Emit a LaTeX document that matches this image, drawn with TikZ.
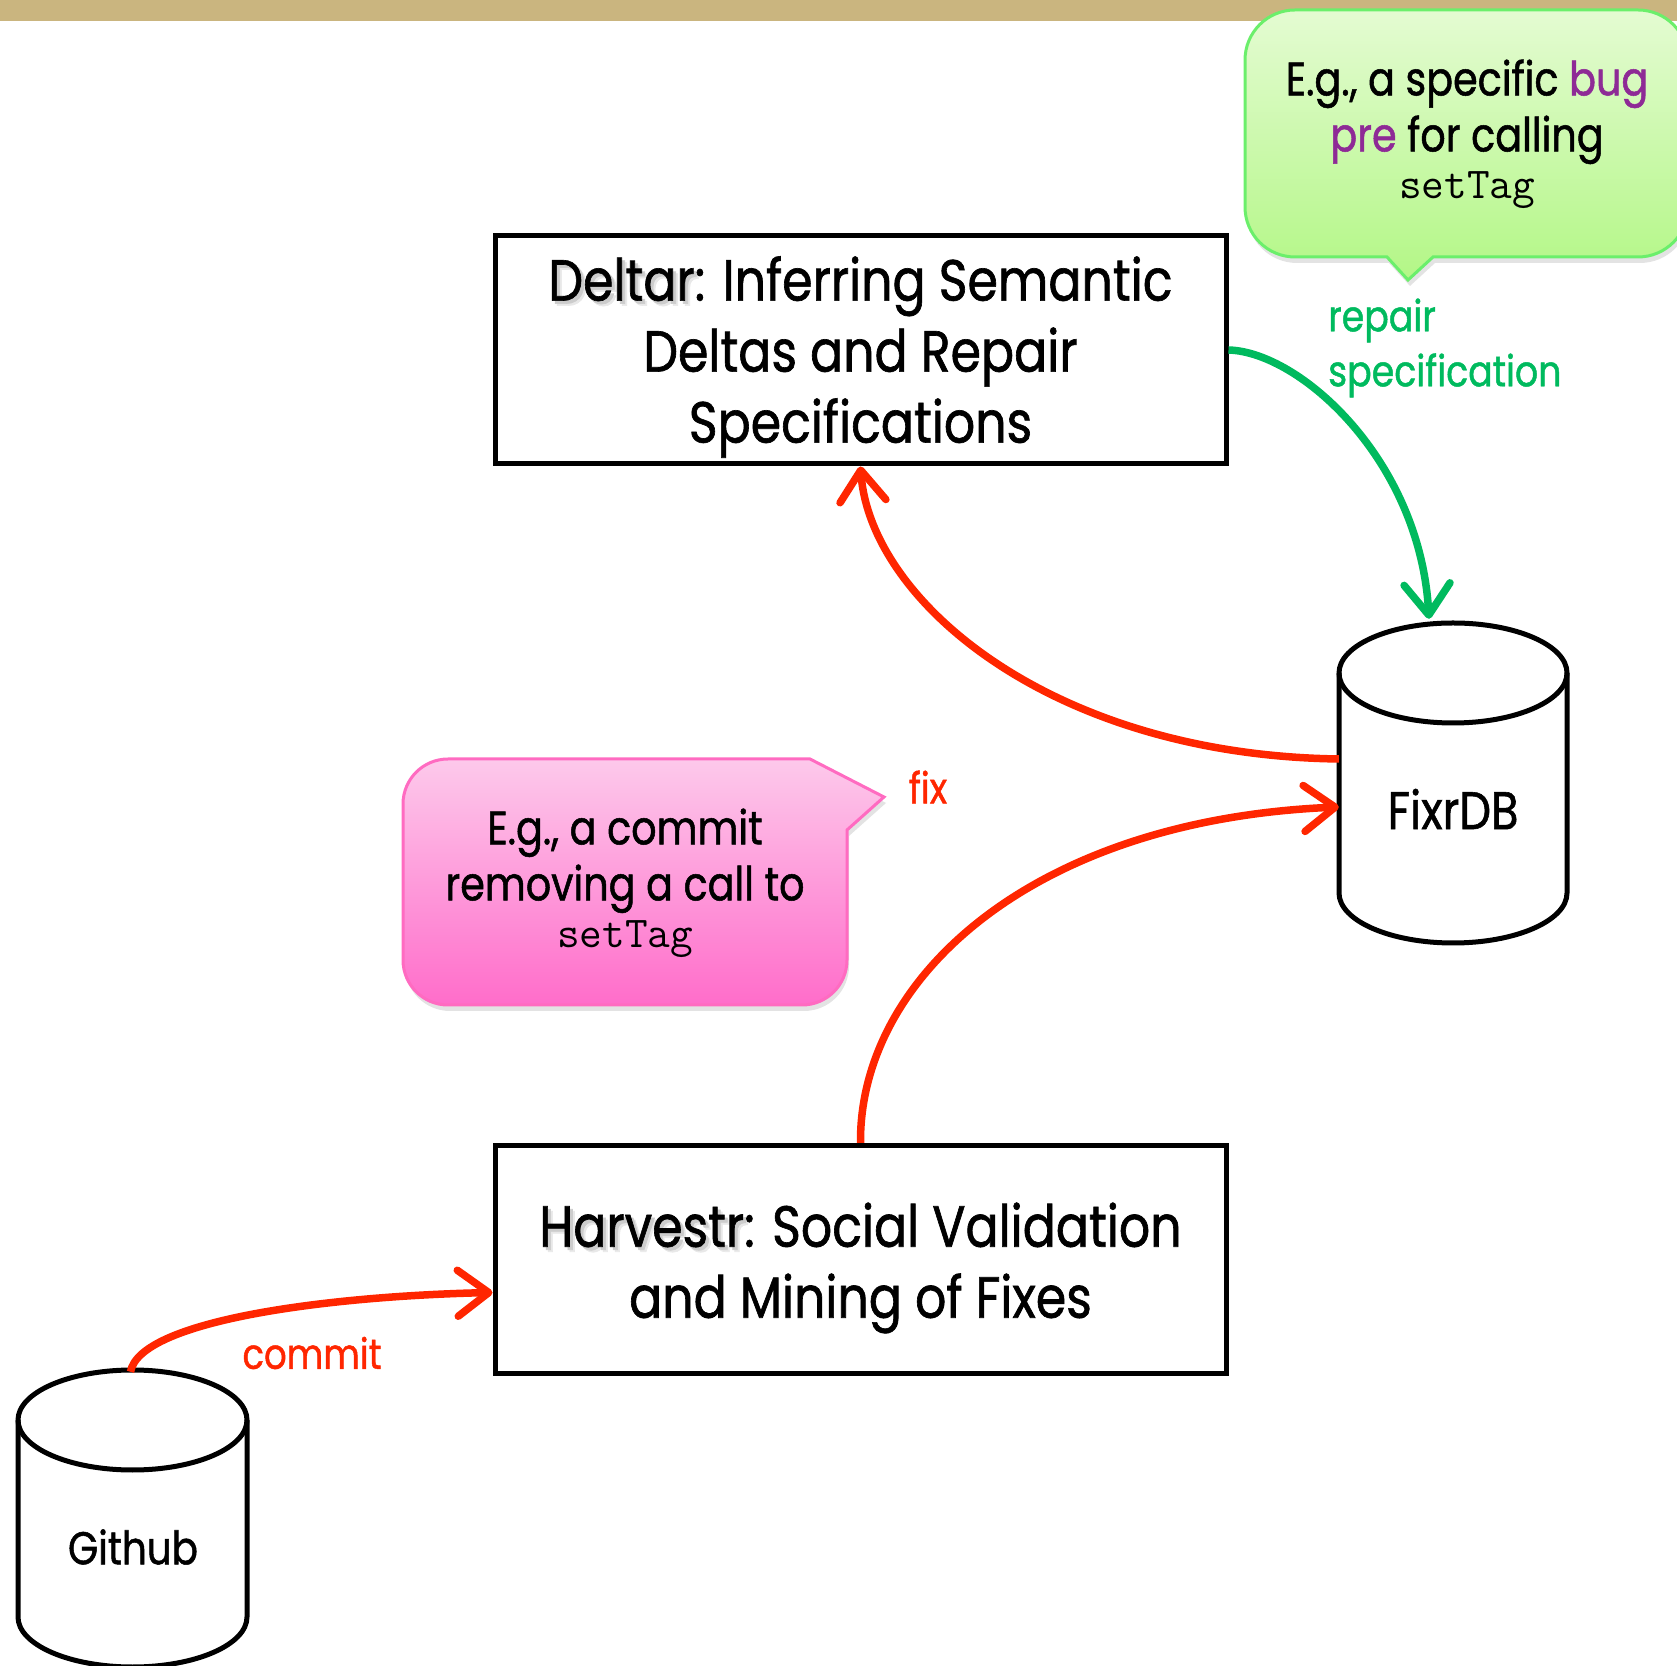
\documentclass[tikz,border=0pt]{standalone}
\usepackage{fontspec}
\setmainfont[FakeStretch=0.845,FakeBold=1.1]{Poppins}
\usetikzlibrary{arrows.meta,calc,shadows}

\definecolor{keyred}{HTML}{FF2600}
\definecolor{keygreen}{HTML}{00BA5E}
\definecolor{keypurple}{HTML}{8E2A96}
\definecolor{bandtan}{HTML}{CAB57F}
\definecolor{bubgreenT}{HTML}{E4FBD2}
\definecolor{bubgreenB}{HTML}{B3F786}
\definecolor{bubgreenL}{HTML}{6BEF6B}
\definecolor{bubpinkT}{HTML}{FDC9EB}
\definecolor{bubpinkB}{HTML}{FF6DCA}
\definecolor{bubpinkL}{HTML}{FF6BC1}

% soft shadow behind a word
\newcommand{\shadowtxt}[1]{%
  \makebox[0pt][l]{\hspace{5pt}\raisebox{-5pt}{\textcolor{black!9}{#1}}}%
  \makebox[0pt][l]{\hspace{3pt}\raisebox{-3pt}{\textcolor{black!20}{#1}}}#1}

% code identifiers in the callouts
\newcommand{\codefont}{\ttfamily\fontsize{44}{48}\selectfont}

% database drum: centre x, top ellipse y, bottom ellipse y, x radius
\newcommand{\drawdrum}[4]{%
  \draw[drum, fill=white] (#1-#4,#2) -- (#1-#4,#3)
    arc[start angle=180,end angle=360,x radius=#4,y radius=50]
    -- (#1+#4,#2)
    arc[start angle=0,end angle=180,x radius=#4,y radius=50] -- cycle;
  \draw[drum] (#1-#4,#2) arc[start angle=180,end angle=360,x radius=#4,y radius=50];}

\begin{document}
\begin{tikzpicture}[x=1pt,y=1pt,
  procbox/.style={draw, line width=5pt, minimum width=731pt, minimum height=228pt,
    inner sep=0pt},
  proctext/.style={inner sep=0pt, align=center, font=\fontsize{58}{71}\selectfont},
  drum/.style={line width=5pt, black},
  dbarea/.style={minimum width=228pt, minimum height=318pt, inner sep=0pt},
  dbtext/.style={font=\fontsize{46}{50}\selectfont, inner sep=0pt},
  bubtext/.style={align=center, inner sep=0pt, font=\fontsize{47}{56}\selectfont},
  flowlabel/.style={inner sep=0pt, font=\fontsize{43}{55}\selectfont},
  flow/.style={line width=7.5pt, -{Straight Barb[length=31pt,width=46pt,round]}},
  redflow/.style={flow, keyred},
  greenflow/.style={flow, keygreen},
  bubshadow/.style={drop shadow={opacity=0.22, shadow xshift=2pt, shadow yshift=-6pt}}]

\useasboundingbox (0,0) rectangle (1677,1665);
\clip (0,0) rectangle (1677,1665);

% header band
\fill[bandtan] (0,1644) rectangle (1677,1665);

% process boxes
\node[procbox] (deltar) at (860.5,1315) {};
\node[proctext] (deltartext) at (860.5,1308)
  {\shadowtxt{Deltar}: Inferring Semantic\\Deltas and Repair\\Specifications};
\node[procbox] (harvestr) at (860.5,405.5) {};
\node[proctext] (harvestrtext) at (860.5,397)
  {\shadowtxt{Harvestr}: Social Validation\\and Mining of Fixes};

% databases
\drawdrum{1453}{992}{772}{114}
\node[dbarea] (fixr) at (1453,882) {};
\node[dbtext, font=\fontsize{53}{50}\selectfont] (fixrname) at (1453,856) {FixrDB};

\drawdrum{132.5}{245}{48}{114.5}
\node[dbarea, minimum width=229pt, minimum height=297pt] (github) at (132.5,146.5) {};
\node[dbtext] (githubname) at (133,118) {Github};

% callout bubbles
\path[bubshadow, top color=bubgreenT, bottom color=bubgreenB, draw=bubgreenL, line width=3pt]
  (1387,1408) -- (1295,1408) arc[start angle=270,end angle=180,radius=50]
  -- (1245,1605) arc[start angle=180,end angle=90,radius=50]
  -- (1638,1655) arc[start angle=90,end angle=0,radius=50]
  -- (1688,1458) arc[start angle=0,end angle=-90,radius=50]
  -- (1433,1408) -- (1408,1385) -- cycle;
\node[bubtext] (specnote) at (1467,1531)
  {E.g., a specific \textcolor{keypurple}{bug}\\\textcolor{keypurple}{pre} for calling\\[-9pt]
   {\codefont setTag}};

\path[bubshadow, top color=bubpinkT, bottom color=bubpinkB, draw=bubpinkL, line width=3pt]
  (403,705) -- (403,861) arc[start angle=180,end angle=90,radius=45]
  -- (810,906) -- (884,868) -- (847,835)
  -- (847,705) arc[start angle=0,end angle=-90,radius=45]
  -- (448,660) arc[start angle=270,end angle=180,radius=45] -- cycle;
\node[bubtext] (commitnote) at (625,782)
  {E.g., a commit\\removing a call to\\[-9pt]
   {\codefont setTag}};

% flow labels
\node[flowlabel, text=keygreen, anchor=west, align=left] (replabel) at (1328,1317)
  {repair\\specification};
\node[flowlabel, text=keyred] (fixlabel) at (928,878) {fix};
\node[flowlabel, font=\fontsize{42}{55}\selectfont, text=keyred] (commitlabel) at (312,312) {commit};

% connectors
\draw[greenflow] (deltar.east) .. controls (1300,1313) and (1420,1205) .. ($(fixr.north)+(-24,5)$);
\draw[redflow] ($(fixr.west)+(0,24)$) .. controls (1050,910) and (870,1065) .. (deltar.south);
\draw[redflow] (harvestr.north) .. controls (859,685) and (1030,845) .. ($(fixr.west)+(0,-24)$);
\draw[redflow] ($(github.north)+(-2,-2)$) .. controls (140,345) and (330,369) .. ($(harvestr.west)+(0,-33)$);
\end{tikzpicture}
\end{document}
